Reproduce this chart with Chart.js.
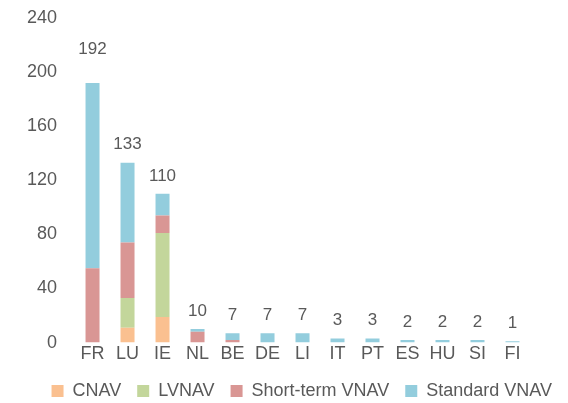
<!DOCTYPE html>
<html>
<head>
<meta charset="utf-8">
<script src="https://cdn.jsdelivr.net/npm/chart.js@4.4.1/dist/chart.umd.min.js"></script>
<style>
  html, body { margin: 0; padding: 0; background: #fff; }
  #wrap { width: 568px; height: 403px; position: relative; }
</style>
</head>
<body>
<div id="wrap"><canvas id="fundsChart"></canvas></div>
<script>
// Fonds monétaires par domicile et par type
var countries = ['FR', 'LU', 'IE', 'NL', 'BE', 'DE', 'LI', 'IT', 'PT', 'ES', 'HU', 'SI', 'FI'];
var cnav      = [0, 11, 19, 0, 0, 0, 0, 0, 0, 0, 0, 0, 0];
var lvnav     = [0, 22, 62, 0, 0, 0, 0, 0, 0, 0, 0, 0, 0];
var shortTerm = [55, 41, 13, 8, 2, 0, 0, 0, 0, 0, 0, 0, 0];
var standard  = [137, 59, 16, 2, 5, 7, 7, 3, 3, 2, 2, 2, 1];
var totals    = [192, 133, 110, 10, 7, 7, 7, 3, 3, 2, 2, 2, 1];
var yTicks    = [0, 40, 80, 120, 160, 200, 240];

var textColor = '#595959';
var fontFamily = 'Liberation Sans';

// Totaux au-dessus de chaque pile
var totalLabels = {
    id: 'totalLabels',
    afterDatasetsDraw: function (chart) {
        var ctx = chart.ctx;
        var y = chart.scales.y;
        var x = chart.scales.x;
        ctx.save();
        ctx.fillStyle = textColor;
        ctx.font = '17px "' + fontFamily + '"';
        ctx.textAlign = 'center';
        ctx.textBaseline = 'middle';
        totals.forEach(function (t, i) {
            var top = y.getPixelForValue(t);
            var gap = i === 0 ? 34 : 18;
            ctx.fillText(String(t), x.getPixelForValue(i), top - gap);
        });
        ctx.restore();
    }
};

var ctx = document.getElementById('fundsChart').getContext('2d');
var myChart = new Chart(ctx, {
    type: 'bar',
    data: {
        labels: countries,
        datasets: [
            { label: 'CNAV', data: cnav, backgroundColor: '#FAC090' },
            { label: 'LVNAV', data: lvnav, backgroundColor: '#C3D69B' },
            { label: 'Short-term VNAV', data: shortTerm, backgroundColor: '#D99694' },
            { label: 'Standard VNAV', data: standard, backgroundColor: '#93CDDD' }
        ]
    },
    options: {
        responsive: true,
        maintainAspectRatio: false,
        animation: false,
        layout: { padding: { top: 0, right: 0, left: 17, bottom: -7 } },
        datasets: { bar: { barPercentage: 0.4, categoryPercentage: 1.0 } },
        plugins: {
            tooltip: { enabled: false },
            legend: {
                position: 'bottom',
                align: 'end',
                labels: {
                    boxWidth: 12,
                    boxHeight: 12,
                    padding: 16,
                    color: textColor,
                    font: { size: 18, family: fontFamily, lineHeight: 1 }
                }
            }
        },
        scales: {
            x: {
                stacked: true,
                grid: { display: false, drawTicks: false },
                border: { display: false },
                ticks: { color: textColor, padding: 9, font: { size: 18, family: fontFamily, lineHeight: 0.3 } }
            },
            y: {
                stacked: true,
                min: 0,
                max: 240,
                grid: { display: false },
                border: { display: false },
                afterBuildTicks: function (axis) {
                    axis.ticks = yTicks.map(function (v) { return { value: v }; });
                },
                ticks: { color: textColor, padding: 10, font: { size: 18, family: fontFamily, lineHeight: 0.9 } }
            },
            // marge vide à droite du graphique
            yRight: {
                position: 'right',
                grid: { display: false },
                border: { display: false },
                ticks: { display: false },
                afterFit: function (axis) { axis.width = 38; }
            }
        }
    },
    plugins: [totalLabels]
});
</script>
</body>
</html>
